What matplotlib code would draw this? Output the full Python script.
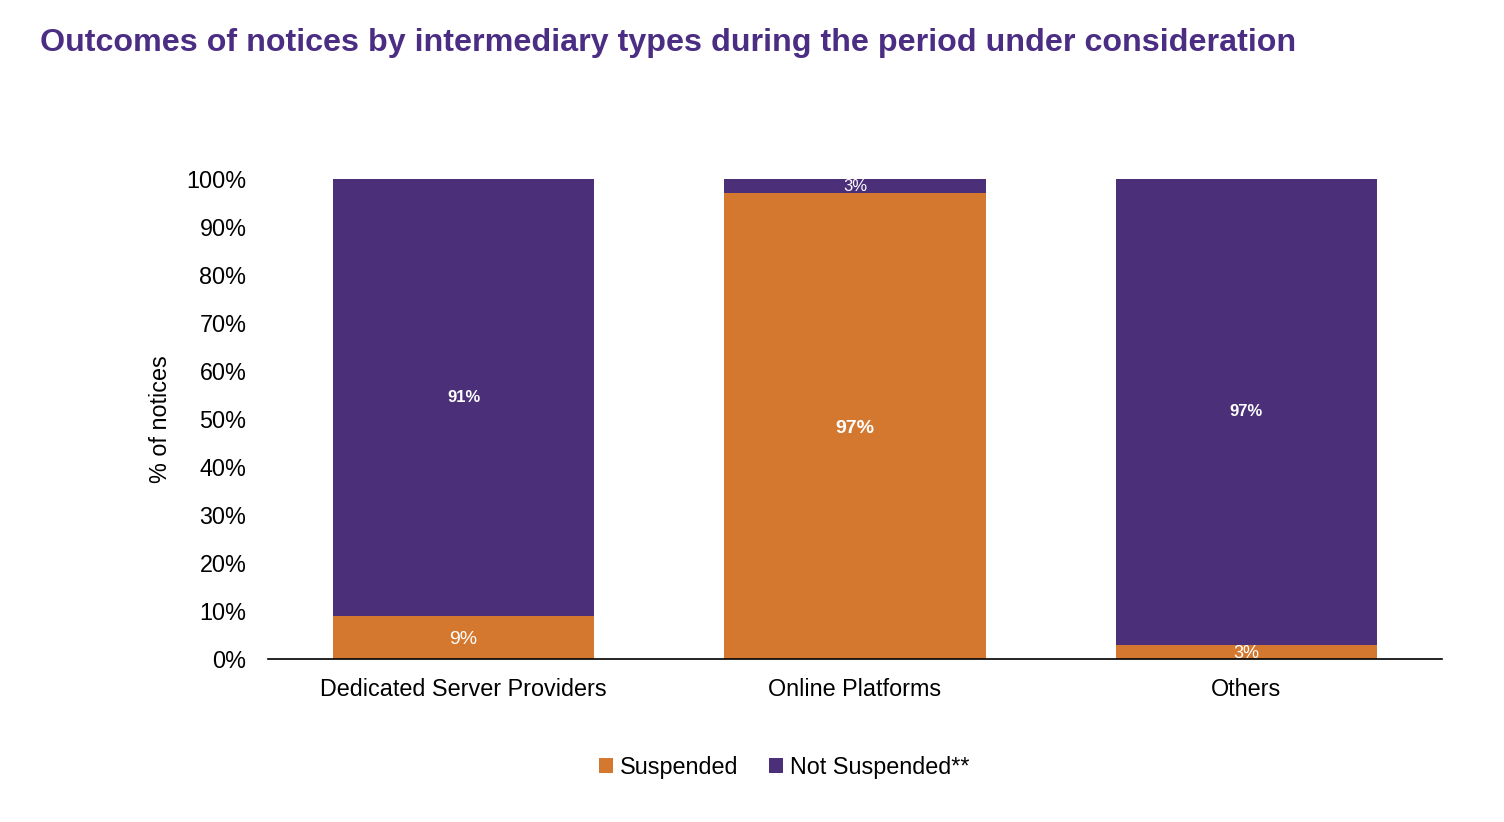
import matplotlib.pyplot as plt
import numpy as np

plt.rcParams['font.family'] = ['Liberation Sans', 'DejaVu Sans']

categories = ['Dedicated Server Providers', 'Online Platforms', 'Others']
suspended = [9, 97, 3]
not_suspended = [91, 3, 97]
yticks = [0, 10, 20, 30, 40, 50, 60, 70, 80, 90, 100]

orange = '#D4782F'
purple = '#4B3079'

fig = plt.figure(figsize=(15.04, 8.22), dpi=100)
ax = fig.add_axes([268/1504, 1-659/822, 1174/1504, 480/822])

x = np.arange(len(categories))
w = 0.667
b1 = ax.bar(x, suspended, w, color=orange, label='Suspended')
b2 = ax.bar(x, not_suspended, w, bottom=suspended, color=purple, label='Not Suspended**')

# segment labels (sizes/weights differ a bit in the original)
sus_style = [(14, 'normal'), (14, 'bold'), (13, 'normal')]
not_style = [(12, 'bold'), (12, 'normal'), (12, 'bold')]
for i in range(len(categories)):
    s, n = suspended[i], not_suspended[i]
    ax.text(x[i], s/2 - 0.4, f'{s}%', ha='center', va='center', color='white',
            fontsize=sus_style[i][0], fontweight=sus_style[i][1])
    ax.text(x[i], s + n/2, f'{n}%', ha='center', va='center', color='white',
            fontsize=not_style[i][0], fontweight=not_style[i][1])

ax.set_xlim(-0.5, 2.5)
ax.set_ylim(0, 100)
ax.set_yticks(yticks)
ax.set_yticklabels([f'{t}%' for t in yticks], fontsize=16.8)
ax.set_xticks(x)
ax.set_xticklabels(categories, fontsize=16.8)
ax.tick_params(axis='both', length=0)
ax.tick_params(axis='y', pad=15.5)
ax.tick_params(axis='x', pad=14)
for s in ['top', 'right', 'left']:
    ax.spines[s].set_visible(False)
ax.spines['bottom'].set_linewidth(1.2)
ax.set_ylabel('% of notices', fontsize=16.8, labelpad=10)

fig.text(40/1504, 1-43/822, 'Outcomes of notices by intermediary types during the period under consideration',
         fontsize=23.2, fontweight='bold', color='#4B2E83', va='center', ha='left')

fig.legend(handles=[b1, b2], loc='center', bbox_to_anchor=(784/1504, 1-767/822),
           ncol=2, frameon=False, fontsize=16.8, handlelength=0.6, handleheight=0.6,
           handletextpad=0.3, columnspacing=1.3)

fig.savefig('out.png', dpi=100)
